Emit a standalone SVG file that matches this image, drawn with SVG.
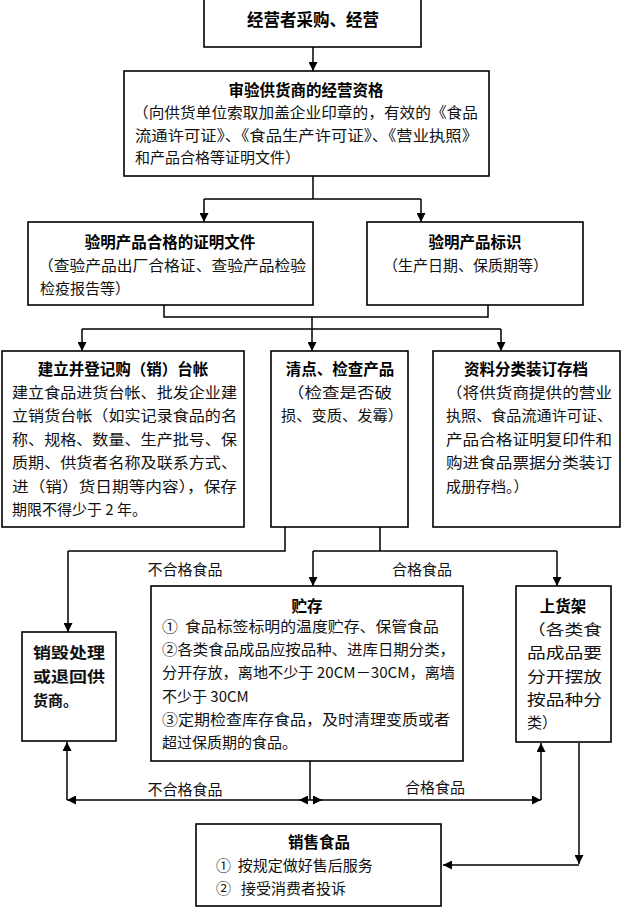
<svg xmlns="http://www.w3.org/2000/svg" width="623" height="908" viewBox="0 0 623 908">
<defs>
<marker id="ah" viewBox="0 0 10 10" refX="10" refY="5" markerWidth="9" markerHeight="9" markerUnits="userSpaceOnUse" orient="auto">
<path d="M0,0 L10,5 L0,10 z" fill="#000"/>
</marker>
<style>
.box{fill:#fff;stroke:#000;stroke-width:1.6}
.ln{fill:none;stroke:#000;stroke-width:1.5}
.ar{fill:none;stroke:#000;stroke-width:1.5;marker-end:url(#ah)}
text{font-family:"Noto Sans CJK SC","Liberation Serif",sans-serif;fill:#111;font-size:15px}
.t{font-weight:bold;text-anchor:middle;fill:#000;font-size:15.5px}
.c{text-anchor:middle}
</style>
</defs>
<rect width="623" height="908" fill="#fff"/>

<g id="connectors">
<path class="ar" d="M313,47 V71"/>
<path class="ln" d="M313,176 V199 M204,199 H421"/>
<path class="ar" d="M204,199 V222"/>
<path class="ar" d="M421,199 V222"/>
<path class="ln" d="M164,305 V317 H488 V305"/>
<path class="ln" d="M82,329 H501"/>
<path class="ar" d="M82,329 V351"/>
<path class="ar" d="M312,317 V351"/>
<path class="ar" d="M501,329 V351"/>
<path class="ln" d="M285,527 V551 H68"/>
<path class="ar" d="M68,551 V632"/>
<path class="ln" d="M380,527 V551 M313,551 H557"/>
<path class="ar" d="M313,551 V586"/>
<path class="ar" d="M557,551 V586"/>
<path class="ln" d="M310,761 V800"/>
<path class="ar" d="M300,800 H67"/>
<path class="ar" d="M320,800 H541"/>
<path class="ar" d="M310,800 H299"/>
<path class="ar" d="M310,800 H322"/>
<path class="ar" d="M67,800 V742"/>
<path class="ar" d="M541,800 V743"/>
<path class="ar" d="M579,743 V864"/>
<path class="ar" d="M579,865 H443"/>
<text x="185" y="575" class="c">不合格食品</text>
<text x="422" y="575" class="c">合格食品</text>
<text x="185" y="795" class="c">不合格食品</text>
<text x="435" y="793" class="c">合格食品</text>
</g>

<g id="n1">
<rect class="box" x="204" y="-1" width="217" height="48"/>
<text x="313" y="26" class="t" style="font-size:16.5px">经营者采购、经营</text>
</g>

<g id="n2">
<rect class="box" x="124" y="71" width="365" height="105"/>
<text x="306" y="96" class="t">审验供货商的经营资格</text>
<text x="133" y="118" textLength="345" lengthAdjust="spacingAndGlyphs">（向供货单位索取加盖企业印章的，有效的《食品</text>
<text x="135" y="141" textLength="343" lengthAdjust="spacingAndGlyphs">流通许可证》、《食品生产许可证》、《营业执照》</text>
<text x="135" y="163">和产品合格等证明文件）</text>
</g>

<g id="n3">
<rect class="box" x="28" y="222" width="285" height="83"/>
<text x="170" y="248" class="t">验明产品合格的证明文件</text>
<text x="38" y="271" textLength="268" lengthAdjust="spacingAndGlyphs">（查验产品出厂合格证、查验产品检验</text>
<text x="40" y="294">检疫报告等）</text>
</g>

<g id="n4">
<rect class="box" x="367" y="222" width="216" height="83"/>
<text x="475" y="248" class="t">验明产品标识</text>
<text x="383" y="271">（生产日期、保质期等）</text>
</g>

<g id="n5">
<rect class="box" x="2" y="351" width="242" height="176"/>
<text x="123" y="375" class="t">建立并登记购（销）台帐</text>
<text x="12" y="398" textLength="225" lengthAdjust="spacingAndGlyphs">建立食品进货台帐、批发企业建</text>
<text x="12" y="421" textLength="225" lengthAdjust="spacingAndGlyphs">立销货台帐（如实记录食品的名</text>
<text x="12" y="445" textLength="225" lengthAdjust="spacingAndGlyphs">称、规格、数量、生产批号、保</text>
<text x="12" y="468" textLength="225" lengthAdjust="spacingAndGlyphs">质期、供货者名称及联系方式、</text>
<text x="12" y="492" textLength="225" lengthAdjust="spacingAndGlyphs">进（销）货日期等内容），保存</text>
<text x="12" y="515">期限不得少于 2 年。</text>
</g>

<g id="n6">
<rect class="box" x="271" y="351" width="137" height="176"/>
<text x="340" y="375" class="t">清点、检查产品</text>
<text x="287" y="398" textLength="105" lengthAdjust="spacingAndGlyphs">（检查是否破</text>
<text x="281" y="421" textLength="122" lengthAdjust="spacingAndGlyphs">损、变质、发霉）</text>
</g>

<g id="n7">
<rect class="box" x="433" y="351" width="187" height="176"/>
<text x="526" y="375" class="t">资料分类装订存档</text>
<text x="446" y="398" textLength="166" lengthAdjust="spacingAndGlyphs">（将供货商提供的营业</text>
<text x="446" y="421" textLength="166" lengthAdjust="spacingAndGlyphs">执照、食品流通许可证、</text>
<text x="446" y="445" textLength="166" lengthAdjust="spacingAndGlyphs">产品合格证明复印件和</text>
<text x="446" y="468" textLength="166" lengthAdjust="spacingAndGlyphs">购进食品票据分类装订</text>
<text x="446" y="492">成册存档。）</text>
</g>

<g id="n8">
<rect class="box" x="22" y="632" width="94" height="109"/>
<text x="33" y="658" font-weight="bold" textLength="72" lengthAdjust="spacingAndGlyphs">销毁处理</text>
<text x="33" y="682" font-weight="bold" textLength="72" lengthAdjust="spacingAndGlyphs">或退回供</text>
<text x="33" y="706" font-weight="bold">货商。</text>
</g>

<g id="n9">
<rect class="box" x="151" y="586" width="312" height="175"/>
<text x="307" y="612" class="t">贮存</text>
<text x="162" y="632" xml:space="preserve" textLength="277" lengthAdjust="spacingAndGlyphs">①  食品标签标明的温度贮存、保管食品</text>
<text x="162" y="655" textLength="293" lengthAdjust="spacingAndGlyphs">②各类食品成品应按品种、进库日期分类，</text>
<text x="162" y="678" textLength="293" lengthAdjust="spacingAndGlyphs">分开存放，离地不少于 20CM－30CM，离墙</text>
<text x="162" y="702">不少于 30CM</text>
<text x="162" y="725" textLength="288" lengthAdjust="spacingAndGlyphs">③定期检查库存食品，及时清理变质或者</text>
<text x="162" y="748">超过保质期的食品。</text>
</g>

<g id="n10">
<rect class="box" x="516" y="586" width="95" height="156"/>
<text x="563" y="612" class="t">上货架</text>
<text x="527" y="635" textLength="75" lengthAdjust="spacingAndGlyphs">（各类食</text>
<text x="527" y="658" textLength="75" lengthAdjust="spacingAndGlyphs">品成品要</text>
<text x="527" y="682" textLength="75" lengthAdjust="spacingAndGlyphs">分开摆放</text>
<text x="527" y="705" textLength="75" lengthAdjust="spacingAndGlyphs">按品种分</text>
<text x="527" y="728">类）</text>
</g>

<g id="n11">
<rect class="box" x="196" y="824" width="245" height="82"/>
<text x="319" y="848" class="t">销售食品</text>
<text x="216" y="871" xml:space="preserve">①  按规定做好售后服务</text>
<text x="216" y="894" xml:space="preserve">②   接受消费者投诉</text>
</g>
</svg>
